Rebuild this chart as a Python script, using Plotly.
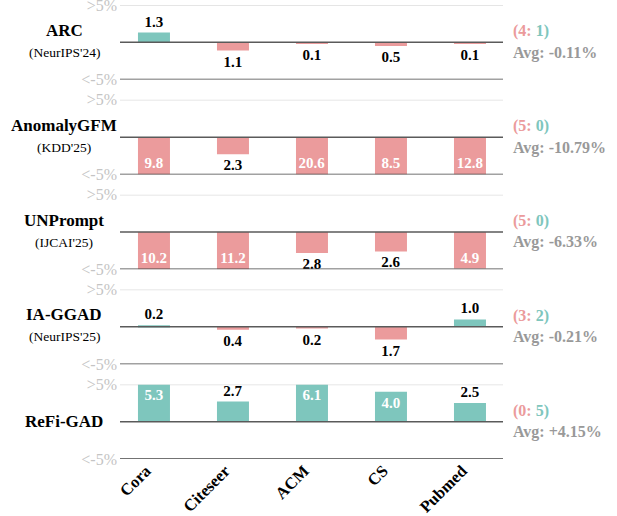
import numpy as np
import plotly.graph_objects as go

# ---------------- data ----------------
datasets = ["Cora", "Citeseer", "ACM", "CS", "Pubmed"]
models = ["ARC", "AnomalyGFM", "UNPrompt", "IA-GGAD", "ReFi-GAD"]
venues = ["(NeurIPS'24)", "(KDD'25)", "(IJCAI'25)", "(NeurIPS'25)", ""]

arc_vals = [1.3, -1.1, -0.1, -0.5, -0.1]
anomalygfm_vals = [-9.8, -2.3, -20.6, -8.5, -12.8]
unprompt_vals = [-10.2, -11.2, -2.8, -2.6, -4.9]
iaggad_vals = [0.2, -0.4, -0.2, -1.7, 1.0]
refigad_vals = [5.3, 2.7, 6.1, 4.0, 2.5]
all_vals = [arc_vals, anomalygfm_vals, unprompt_vals, iaggad_vals, refigad_vals]

avg_texts = ["-0.11%", "-10.79%", "-6.33%", "-0.21%", "+4.15%"]
ytick_vals = [5, -5]
ytick_text = [">5%", "<-5%"]

# ---------------- style ----------------
TEAL = "#7ec6bd"
PINK = "#eb9b9c"
FONT = "Liberation Serif, Times New Roman, DejaVu Serif, serif"
W, H = 617, 516
ML, MR, MT, MB = 120, 114, 5, 57
PH = H - MT - MB
PANEL = 74.6
PITCH = (PH - PANEL) / 4
XLABEL_SHIFT = -0.1  # small horizontal nudge of rotated x labels (category units)

fig = go.Figure()
shapes = []
annotations = []

for i, vals in enumerate(all_vals):
    n = "" if i == 0 else str(i + 1)
    xa, ya = "x" + n, "y" + n
    v = np.array(vals)
    clipped = np.clip(v, -5, 5)
    colors = [TEAL if x > 0 else PINK for x in v]
    pos = ["inside" if abs(x) >= 3 else "outside" for x in v]
    tcol = ["white" if p == "inside" else "black" for p in pos]
    txt = [f"{abs(x):.1f}" for x in v]
    fig.add_trace(go.Bar(
        x=datasets, y=clipped, text=txt, textposition=pos,
        insidetextanchor="end", constraintext="none", textangle=0,
        textfont=dict(family=FONT, size=15, color=tcol, weight="bold"),
        marker=dict(color=colors, line=dict(width=0)),
        width=0.405, xaxis=xa, yaxis=ya, showlegend=False,
        hoverinfo="skip", cliponaxis=False,
    ))
    top = i * PITCH
    bot = top + PANEL
    dom = [max(0.0, 1 - bot / PH), min(1.0, 1 - top / PH)]
    fig.layout["xaxis" + n] = dict(
        domain=[0, 1], range=[-0.43, 4.418], anchor=ya, automargin=False,
        type="category", categoryorder="array", categoryarray=datasets,
        tickmode="array",
        tickvals=[k + XLABEL_SHIFT for k in range(len(datasets))],
        ticktext=datasets,
        showticklabels=(i == 4), showgrid=False, zeroline=False,
        showline=False, ticks="", tickangle=-45,
        tickfont=dict(family=FONT, size=16.5, color="black", weight="bold"),
        ticklabelstandoff=-2, ticklabeloverflow="allow",
    )
    fig.layout["yaxis" + n] = dict(
        domain=dom, range=[-5, 5], anchor=xa, automargin=False,
        tickvals=ytick_vals, ticktext=ytick_text,
        tickfont=dict(family=FONT, size=16, color="#c4c4c4"),
        showgrid=False, zeroline=False, showline=False, ticks="",
        ticklabelstandoff=2, ticklabeloverflow="allow",
    )
    shapes.append(dict(type="line", xref=xa + " domain", yref=ya, x0=0, x1=1,
                       y0=5, y1=5, line=dict(color="#dddddd", width=1.5), layer="below"))
    shapes.append(dict(type="line", xref=xa + " domain", yref=ya, x0=0, x1=1,
                       y0=0, y1=0, line=dict(color="#5a5a5a", width=1.5), layer="above"))
    shapes.append(dict(type="line", xref=xa + " domain", yref=ya, x0=0, x1=1,
                       y0=-5, y1=-5, line=dict(color="#444444", width=1.5), layer="above"))

    # left labels
    lx = (64 - ML) / (W - ML - MR)
    if venues[i]:
        annotations.append(dict(text="<b>" + models[i] + "</b>", xref="paper", yref=ya,
                                x=lx, y=1.6, xanchor="center", yanchor="middle", showarrow=False,
                                font=dict(family=FONT, size=17, color="black")))
        annotations.append(dict(text=venues[i], xref="paper", yref=ya,
                                x=lx, y=-1.35, xanchor="center", yanchor="middle", showarrow=False,
                                font=dict(family=FONT, size=13.5, color="black")))
    else:
        annotations.append(dict(text="<b>" + models[i] + "</b>", xref="paper", yref=ya,
                                x=lx, y=0, xanchor="center", yanchor="middle", showarrow=False,
                                font=dict(family=FONT, size=17, color="black")))

    # right labels
    neg = int((v < 0).sum())
    posn = int((v > 0).sum())
    rx = (511 - ML) / (W - ML - MR)
    annotations.append(dict(
        text=f"<b><span style='color:{PINK}'>({neg}: </span><span style='color:{TEAL}'>{posn})</span></b>",
        xref="paper", yref=ya, x=rx, y=1.45, xanchor="left", yanchor="middle",
        showarrow=False, font=dict(family=FONT, size=16)))
    annotations.append(dict(
        text=f"<b>Avg: {avg_texts[i]}</b>",
        xref="paper", yref=ya, x=rx, y=-1.4, xanchor="left", yanchor="middle",
        showarrow=False, font=dict(family=FONT, size=16, color="#999999")))

fig.update_layout(
    template="none",
    width=W, height=H,
    margin=dict(l=ML, r=MR, t=MT, b=MB),
    paper_bgcolor="white", plot_bgcolor="white",
    font=dict(family=FONT),
    shapes=shapes, annotations=annotations,
    bargap=0.5,
)

fig.write_html("out.html", config={"displayModeBar": False},
               post_script="document.body.style.margin='0';document.body.style.overflow='hidden';")
